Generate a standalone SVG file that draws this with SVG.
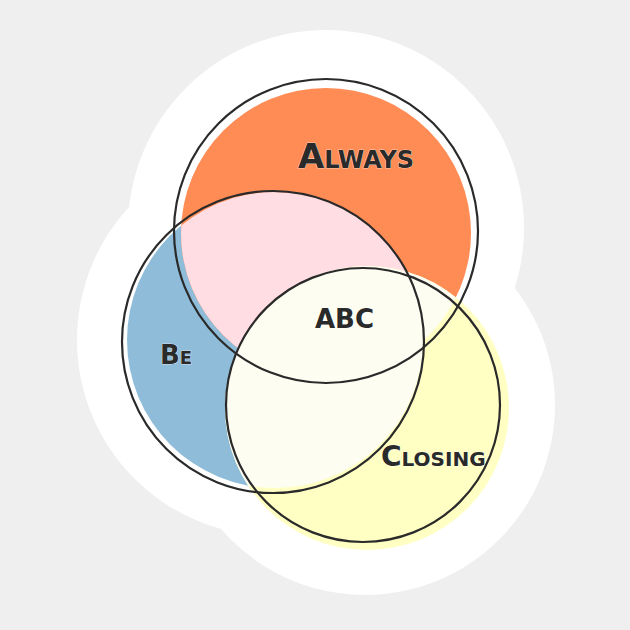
<svg xmlns="http://www.w3.org/2000/svg" width="630" height="630" viewBox="0 0 630 630">
<style>
.o{fill:none;stroke:#2a2a2a;stroke-width:2.2}
.t{font-family:"DejaVu Sans",sans-serif;font-weight:bold;font-variant:small-caps;fill:#2a2a2a;stroke:#fff;stroke-width:0.6;paint-order:stroke}
</style>
<defs>
<clipPath id="cb"><circle cx="275" cy="340" r="148"/></clipPath>
<clipPath id="cbo"><circle cx="275" cy="340" r="148"/><circle cx="326" cy="233" r="145"/></clipPath>
</defs>
<rect width="630" height="630" fill="#efefef"/>
<g id="sticker" fill="#fff">
<circle cx="326" cy="228" r="198"/><circle cx="273" cy="340" r="196"/><circle cx="365" cy="405" r="190"/>
</g>
<g id="fills">
<circle cx="275" cy="340" r="148" fill="#8fbdd9"/>
<circle cx="326" cy="233" r="145" fill="#ff8c55"/>
<circle cx="326" cy="233" r="145" fill="#ffdde2" clip-path="url(#cb)"/>
<circle cx="367" cy="408" r="142" fill="#ffffc4"/>
<circle cx="367" cy="408" r="142" fill="#fdfdf1" clip-path="url(#cbo)"/>
</g>
<g id="connectors">
<circle class="o" cx="326" cy="231" r="152"/>
<circle class="o" cx="273" cy="342" r="151"/>
<circle class="o" cx="363" cy="405" r="137"/>
</g>
<g id="n-always"><text class="t" x="298" y="168" font-size="34">Always</text></g>
<g id="n-abc"><text class="t" x="315" y="328" font-size="26">ABC</text></g>
<g id="n-be"><text class="t" x="160" y="364" font-size="26">Be</text></g>
<g id="n-closing"><text class="t" x="381" y="466" font-size="28">Closing</text></g>
</svg>
